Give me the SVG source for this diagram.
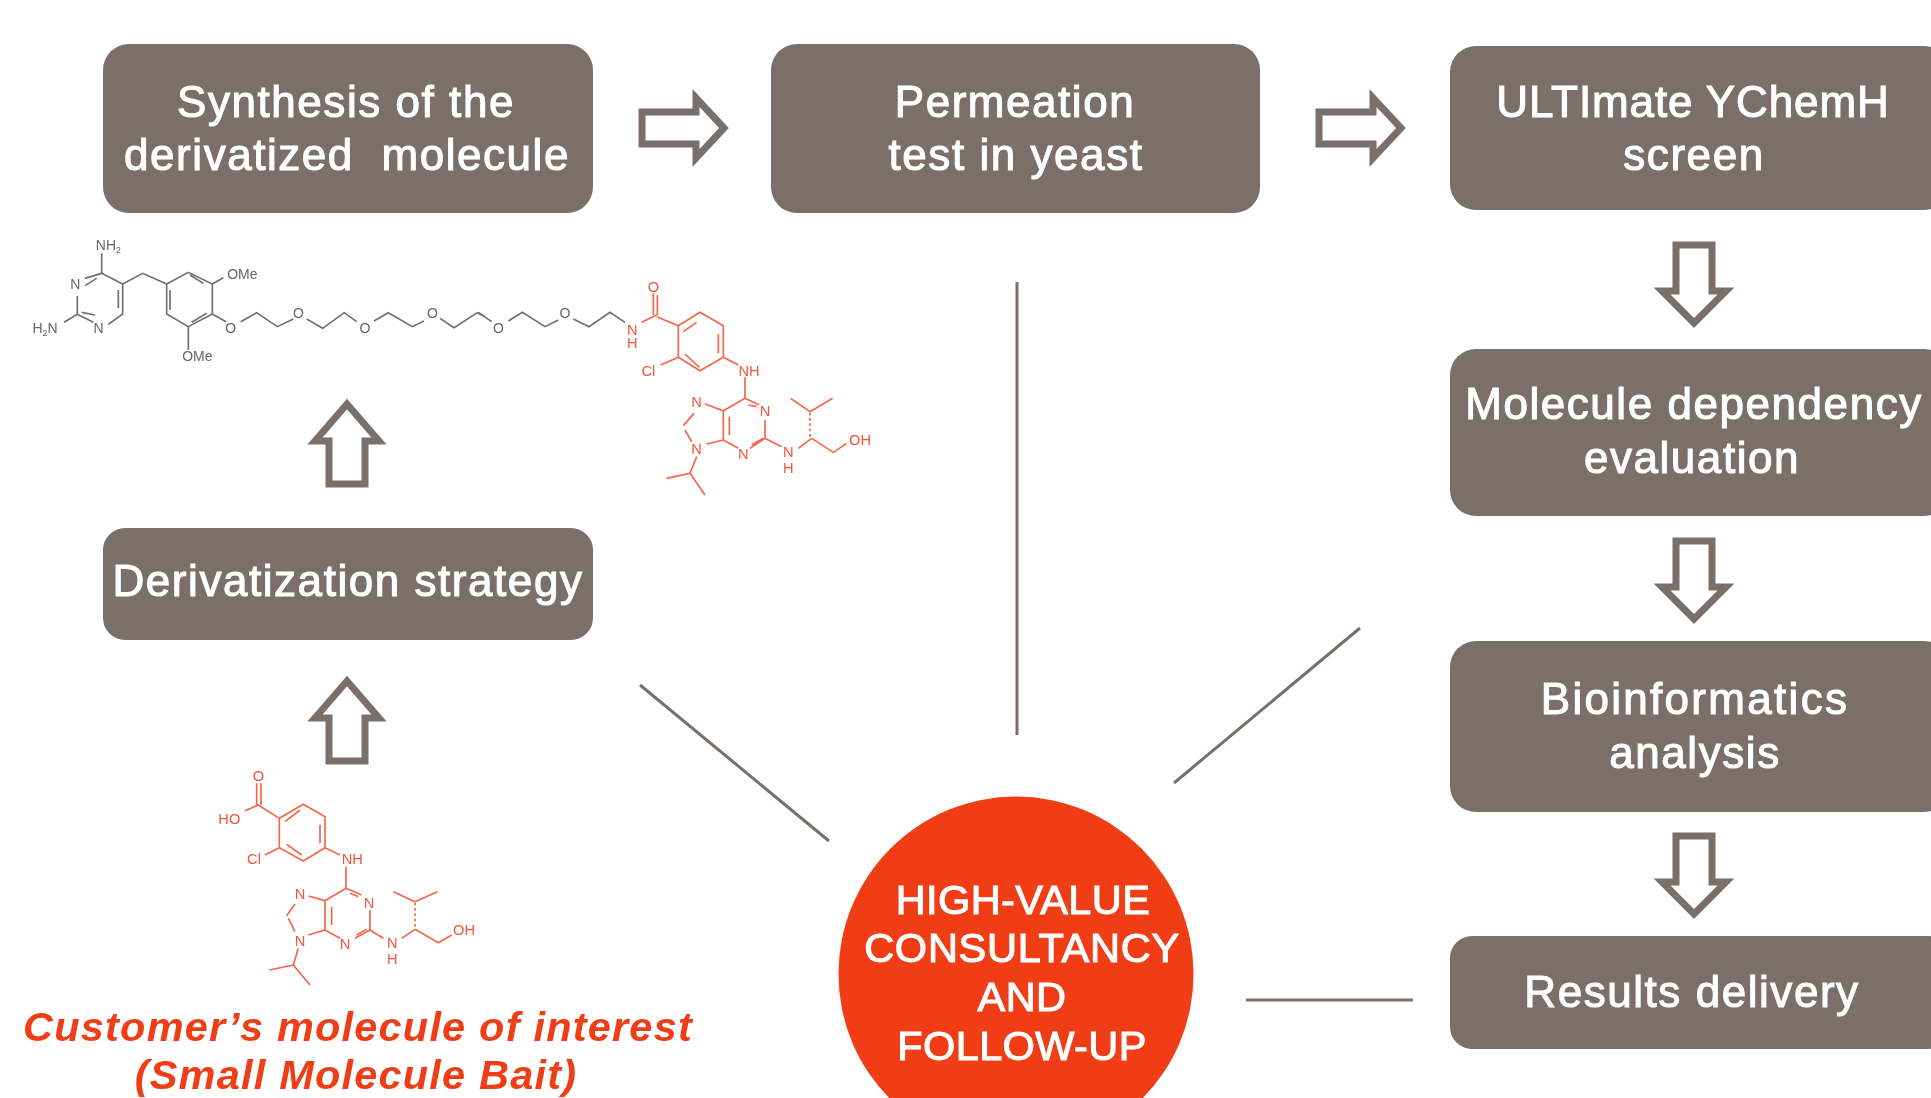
<svg xmlns="http://www.w3.org/2000/svg" width="1931" height="1098" viewBox="0 0 1931 1098">
<style>
.box{fill:#7a6f69}
.t{font-family:"Liberation Sans",Arial,sans-serif;font-size:44px;fill:#fff;stroke:#fff;stroke-width:1.1px;text-anchor:middle;letter-spacing:1.55px}
.c{font-size:41.5px;letter-spacing:.4px}
.r{font-family:"Liberation Sans",Arial,sans-serif;font-size:41.5px;font-weight:bold;font-style:italic;fill:#f03c14;text-anchor:middle;letter-spacing:1.2px}
.arrow{fill:#fff;stroke:#7a6f69;stroke-width:7;stroke-miterlimit:6}
.link{stroke:#7a6f69;stroke-width:3;fill:none}
.mk{fill:none;stroke:#6f6f6f;stroke-width:5}
.mr{fill:none;stroke:#f4654a;stroke-width:5}
.lk{font-family:"Liberation Sans",Arial,sans-serif;font-size:42px;fill:#666;text-anchor:middle}
.lr{font-family:"Liberation Sans",Arial,sans-serif;font-size:44px;fill:#f4553a;text-anchor:middle}
</style>
<defs><filter id="soft" x="0" y="0" width="100%" height="100%"><feGaussianBlur stdDeviation="0.7"/></filter></defs>
<rect width="1931" height="1098" fill="#fff"/>
<g filter="url(#soft)">
<g id="connectors">
<path class="link" d="M1017 282V735M640 685L829 841M1360 628L1174 783M1246 1000H1413"/>
<path class="arrow" d="M642 112H696V98L724 128L696 158V144H642Z"/>
<path class="arrow" d="M1319 112H1373V98L1401 128L1373 158V144H1319Z"/>
<path class="arrow" d="M1676 245H1712V291H1726L1694 323L1662 291H1676Z"/>
<path class="arrow" d="M1676 541H1712V587H1726L1694 619L1662 587H1676Z"/>
<path class="arrow" d="M1676 836H1712V882H1726L1694 914L1662 882H1676Z"/>
<path class="arrow" d="M329 484H365V441H379L347 404L315 441H329Z"/>
<path class="arrow" d="M329 761H365V718H379L347 681L315 718H329Z"/>
</g>
<g id="node-synthesis"><rect class="box" x="103" y="44" width="490" height="169" rx="26"/><text class="t" x="346" y="117">Synthesis of the</text><text class="t" x="347" y="170" xml:space="preserve">derivatized  molecule</text></g>
<g id="node-permeation"><rect class="box" x="771" y="44" width="489" height="169" rx="26"/><text class="t" x="1015" y="117">Permeation</text><text class="t" x="1016" y="170">test in yeast</text></g>
<g id="node-ultimate"><rect class="box" x="1450" y="46" width="500" height="164" rx="26"/><text class="t" x="1693" y="117" style="letter-spacing:.9px">ULTImate YChemH</text><text class="t" x="1694" y="170">screen</text></g>
<g id="node-dependency"><rect class="box" x="1450" y="349" width="500" height="167" rx="26"/><text class="t" x="1694" y="419">Molecule dependency</text><text class="t" x="1692" y="473">evaluation</text></g>
<g id="node-bioinformatics"><rect class="box" x="1450" y="641" width="500" height="171" rx="26"/><text class="t" x="1695" y="714" style="letter-spacing:2.3px">Bioinformatics</text><text class="t" x="1695" y="768">analysis</text></g>
<g id="node-results"><rect class="box" x="1450" y="936" width="500" height="113" rx="22"/><text class="t" x="1692" y="1007">Results delivery</text></g>
<g id="node-derivatization"><rect class="box" x="103" y="528" width="490" height="112" rx="22"/><text class="t" x="348" y="596">Derivatization strategy</text></g>
<g id="node-consultancy"><circle cx="1016" cy="974" r="177.500" fill="#f03c14"/><text class="t c" x="1023" y="914">HIGH-VALUE</text><text class="t c" x="1022" y="962" style="letter-spacing:.75px">CONSULTANCY</text><text class="t c" x="1022" y="1011">AND</text><text class="t c" x="1022" y="1060">FOLLOW-UP</text></g>
<g id="node-bait-text"><text class="r" x="358" y="1041">Customer’s molecule of interest</text><text class="r" x="356" y="1089">(Small Molecule Bait)</text></g>
<g id="molecule-linker" transform="translate(0,215) scale(.33333)">
<path class="mk" d="M305 115V175L255 190M290 190L255 212M232 243V298L280 322M245 292L285 300M325 328L368 297V207L305 175M355 280V225M192 322L232 298M368 207L428 175L500 207M500 207L565 172L637 207V297L565 335L500 297ZM570 180L610 205M510 225V285M575 322L620 295M637 207L670 188M565 335V405M637 297L678 320M722 320L770 293L832 335L880 312M920 312L968 340L1033 293L1070 320M1122 318L1165 293L1237 335L1272 318M1320 310L1362 338L1432 293L1455 305"/>
<text class="lk" x="325" y="106">NH<tspan font-size="26" dy="8">2</tspan></text>
<text class="lk" x="226" y="222">N</text><text class="lk" x="296" y="355">N</text>
<text class="lk" x="135" y="355">H<tspan font-size="26" dy="8">2</tspan><tspan dy="-8">N</tspan></text>
<text class="lk" x="727" y="192">OMe</text><text class="lk" x="592" y="438">OMe</text>
<text class="lk" x="692" y="355">O</text><text class="lk" x="895" y="310">O</text><text class="lk" x="1095" y="355">O</text><text class="lk" x="1297" y="310">O</text>
</g>
<g id="molecule-linker-end" transform="translate(470,260) scale(.33333)">
<path class="mk" d="M25 157L65 185M115 183L157 157L225 200L265 180M310 177L357 200L420 157L465 187"/>
<text class="lk" x="85" y="220">O</text><text class="lk" x="285" y="173">O</text>
</g>
<g id="molecule-bait-linked" transform="translate(470,260) scale(.33333)">
<path class="mr" d="M515 187L560 165M550 165V100M562 165V105M560 170L625 197M625 197L690 157L760 197V292L690 332L625 292ZM640 215L680 187M745 222V280M645 282L688 322M572 315L625 292M760 292L805 315M825 352V415L760 452V540L805 565M840 565L885 535V480M868 435L825 415M835 435L860 440M845 555L880 535M705 432L760 452M640 497L672 460M645 510L665 545M710 552L760 540M778 470V525M680 590L660 640L590 655M660 640L705 705M885 535L935 560M985 565L1025 535M1020 455L962 415M1020 455L1088 415M1025 535L1090 577L1130 550"/>
<path class="mr" stroke-dasharray="8 8" d="M1020 530V455"/>
<text class="lr" x="487" y="226">N</text><text class="lr" x="487" y="265">H</text>
<text class="lr" x="550" y="95">O</text><text class="lr" x="535" y="348">Cl</text><text class="lr" x="837" y="348">NH</text>
<text class="lr" x="680" y="441">N</text><text class="lr" x="885" y="468">N</text><text class="lr" x="680" y="581">N</text><text class="lr" x="820" y="596">N</text>
<text class="lr" x="955" y="591">N</text><text class="lr" x="955" y="640">H</text><text class="lr" x="1170" y="554">OH</text>
</g>
<g id="molecule-bait" transform="translate(190,750) scale(.33333)">
<path class="mr" d="M200 165V100M213 165V100M165 182L205 165L268 205M268 205L340 163L405 200V293L340 333L268 293ZM285 215L330 180M390 225V280M290 283L335 315M225 315L268 293M405 293L450 315M468 350V415L405 452V540L450 565M495 565L540 540V480M515 435L468 415M480 430L505 440M500 555L530 538M355 438L405 452M425 470V525M290 497L315 462M295 505L315 545M355 555L405 540M325 595L310 645L238 660M310 645L360 705M540 540L580 565M635 565L675 538M675 455L610 425M675 455L742 425M675 538L745 578L785 555"/>
<path class="mr" stroke-dasharray="8 8" d="M675 530V455"/>
<text class="lr" x="205" y="94">O</text><text class="lr" x="118" y="221">HO</text><text class="lr" x="192" y="342">Cl</text><text class="lr" x="487" y="341">NH</text>
<text class="lr" x="330" y="446">N</text><text class="lr" x="537" y="474">N</text><text class="lr" x="330" y="588">N</text><text class="lr" x="465" y="598">N</text>
<text class="lr" x="607" y="594">N</text><text class="lr" x="607" y="643">H</text><text class="lr" x="822" y="556">OH</text>
</g>
</g>
</svg>
